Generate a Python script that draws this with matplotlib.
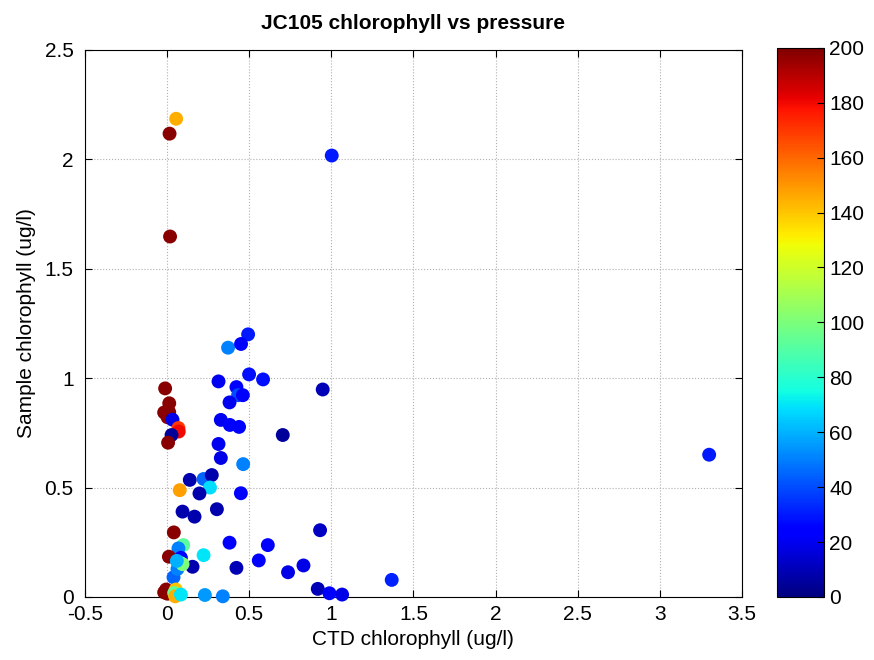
import matplotlib.pyplot as plt

plt.rcParams['font.family'] = ['Liberation Sans', 'DejaVu Sans']

# CTD chlorophyll, sample chlorophyll, pressure (dbar)
ctd = [0.056, 0.016, 0.019, 1.003,
       0.494, 0.372, 0.451, 0.500, 0.585, 0.314, -0.011, 0.948, 0.423,
       0.433, 0.462, 0.381, 0.014, -0.017, 0.014, 0.004, 0.034, 0.070,
       0.072, 0.028, 0.007, 0.328, 0.383, 0.439, 0.705, 0.314, 0.328,
       0.464, 3.300,
       0.139, 0.223, 0.273, 0.262, 0.078, 0.198, 0.450, 0.095, 0.168,
       0.304, 0.932, 0.042, 0.381, 0.614, 0.099, 0.070, 0.223, 0.012,
       0.085, 0.080, 0.156, 0.559, 0.831, 0.423, 0.737, 0.040, 0.064,
       0.918, 0.989, 1.066, 1.368, 0.095, 0.060,
       -0.005, -0.017, 0.003, 0.054, 0.044, 0.050, 0.085, 0.231, 0.340]
sample = [2.185, 2.117, 1.647, 2.017,
          1.200, 1.139, 1.156, 1.017, 0.994, 0.985, 0.953, 0.948, 0.959,
          0.922, 0.922, 0.889, 0.885, 0.843, 0.844, 0.821, 0.810, 0.772,
          0.756, 0.740, 0.705, 0.809, 0.786, 0.777, 0.740, 0.699, 0.635,
          0.607, 0.650,
          0.535, 0.539, 0.557, 0.500, 0.488, 0.473, 0.474, 0.390, 0.367,
          0.401, 0.305, 0.295, 0.248, 0.237, 0.237, 0.222, 0.191, 0.184,
          0.179, 0.156, 0.138, 0.167, 0.144, 0.133, 0.113, 0.090, 0.128,
          0.037, 0.017, 0.011, 0.078, 0.150, 0.165,
          0.034, 0.021, 0.015, 0.034, 0.018, 0.003, 0.011, 0.009, 0.003]
pressure = [145, 198, 198, 30,
            30, 50, 22, 28, 28, 20, 198, 10, 22,
            40, 22, 20, 198, 198, 198, 198, 18, 170,
            180, 5, 198, 20, 24, 22, 5, 20, 18,
            50, 30,
            8, 45, 8, 68, 148, 8, 22, 8, 8,
            8, 12, 198, 22, 22, 92, 50, 70, 198,
            22, 92, 8, 22, 18, 10, 18, 45, 50,
            10, 24, 18, 32, 100, 60,
            198, 198, 198, 140, 95, 145, 70, 55, 50]

fig = plt.figure(figsize=(8.74, 6.6), dpi=100)
ax = fig.add_axes([0.097, 0.0955, 0.752, 0.829])
cax = fig.add_axes([0.889, 0.0955, 0.054, 0.832])

sc = ax.scatter(ctd, sample, c=pressure, cmap='jet', vmin=0, vmax=200,
                s=100, edgecolors='none', clip_on=False, zorder=3)

ax.set_xlim(-0.5, 3.5)
ax.set_ylim(0, 2.5)
ax.set_xticks([-0.5, 0, 0.5, 1, 1.5, 2, 2.5, 3, 3.5])
ax.set_xticklabels(['-0.5', '0', '0.5', '1', '1.5', '2', '2.5', '3', '3.5'])
ax.set_yticks([0, 0.5, 1, 1.5, 2, 2.5])
ax.set_yticklabels(['0', '0.5', '1', '1.5', '2', '2.5'])
ax.grid(True, linestyle=':', color='#b0b0b0', linewidth=0.8)
ax.tick_params(direction='in', labelsize=15, top=True, right=True, length=5)
ax.tick_params(axis='x', pad=6)
ax.tick_params(axis='y', pad=8)
ax.set_xlabel('CTD chlorophyll (ug/l)', fontsize=15, labelpad=4)
ax.set_ylabel('Sample chlorophyll (ug/l)', fontsize=15, labelpad=6)
ax.set_title('JC105 chlorophyll vs pressure', fontsize=15, fontweight='bold', pad=15)

cb = fig.colorbar(sc, cax=cax, ticks=range(0, 201, 20))
cb.ax.tick_params(direction='in', labelsize=15, length=5)

plt.savefig('out.png', dpi=100)
